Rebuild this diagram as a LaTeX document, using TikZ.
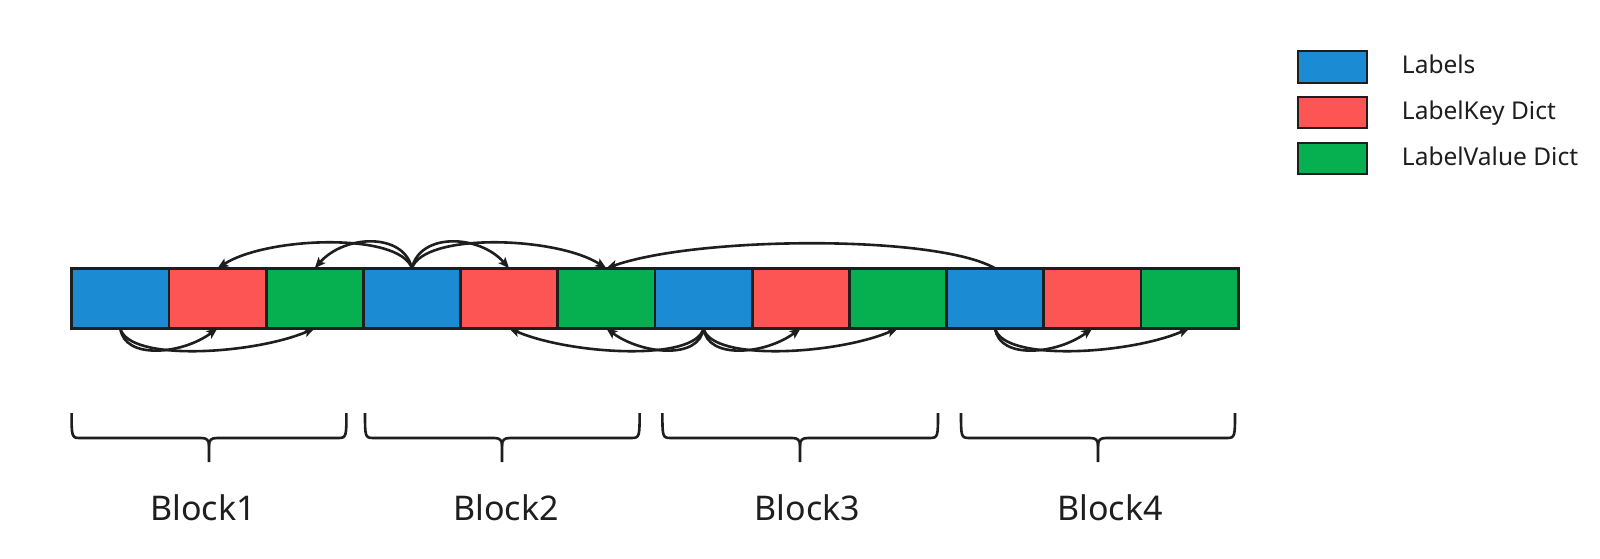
\documentclass[tikz,border=0pt]{standalone}
\usepackage{fontspec}
\setmainfont{Noto Sans}
\usetikzlibrary{arrows.meta}
\definecolor{cblue}{HTML}{1B8CD3}
\definecolor{cred}{HTML}{FD5454}
\definecolor{cgreen}{HTML}{06AF4F}
\definecolor{ink}{HTML}{1E1E1E}
\newcommand\blockbrace[3]{%
 \draw[brc] (#1,413) .. controls (#1,436) and (#1,438) .. (#1+8,438) -- (#2-8,438) .. controls (#2-2,438) and (#2,440) .. (#2,446) -- (#2,462);
 \draw[brc] (#2,446) .. controls (#2,440) and (#2+2,438) .. (#2+8,438) -- (#3-8,438) .. controls (#3,438) and (#3,436) .. (#3,413);}
\begin{document}
\begin{tikzpicture}[x=1pt,y=-1pt,
 cell/.style={draw=ink, line width=2.8pt, minimum width=97.2pt, minimum height=60pt, inner sep=0pt, outer sep=0pt},
 legbox/.style={draw=ink, line width=2.3pt, minimum width=69.6pt, minimum height=31.6pt, inner sep=0pt},
 legtxt/.style={anchor=base west, inner sep=0pt, font=\fontsize{24.5}{28}\selectfont, text=ink},
 blk/.style={anchor=base, inner sep=0pt, font=\fontsize{34}{38}\selectfont, text=ink},
 arc/.style={draw=ink, line width=2.6pt, -{Stealth[length=11pt,width=9pt,inset=2.5pt]}},
 brc/.style={draw=ink, line width=2.6pt}]
\useasboundingbox[fill=white] (0,0) rectangle (1600,559);
% cells
\node[cell, fill=cblue]  (c1)  at (120.3,298.3) {};
\node[cell, fill=cred]   (c2)  at (217.5,298.3) {};
\node[cell, fill=cgreen] (c3)  at (314.7,298.3) {};
\node[cell, fill=cblue]  (c4)  at (411.9,298.3) {};
\node[cell, fill=cred]   (c5)  at (509.1,298.3) {};
\node[cell, fill=cgreen] (c6)  at (606.3,298.3) {};
\node[cell, fill=cblue]  (c7)  at (703.5,298.3) {};
\node[cell, fill=cred]   (c8)  at (800.7,298.3) {};
\node[cell, fill=cgreen] (c9)  at (897.9,298.3) {};
\node[cell, fill=cblue]  (c10) at (995.1,298.3) {};
\node[cell, fill=cred]   (c11) at (1092.3,298.3) {};
\node[cell, fill=cgreen] (c12) at (1189.5,298.3) {};
% top arcs
\draw[arc] (c4.north) .. controls +(-12,-36) and +(50,-32) .. (c2.north);
\draw[arc] (c4.north) .. controls +(-8,-36) and +(30,-34) .. (c3.north);
\draw[arc] (c4.north) .. controls +(8,-36) and +(-30,-34) .. (c5.north);
\draw[arc] (c4.north) .. controls +(12,-36) and +(-50,-32) .. (c6.north);
\draw[arc] (c10.north) .. controls +(-60,-34) and +(90,-32) .. (c6.north);
% bottom arcs
\draw[arc] (c1.south) .. controls +(4,32) and +(-35,26) .. (c2.south);
\draw[arc] (c1.south) .. controls +(8,34) and +(-60,26) .. (c3.south);
\draw[arc] (c7.south) .. controls +(-4,32) and +(35,26) .. (c6.south);
\draw[arc] (c7.south) .. controls +(-8,34) and +(60,26) .. (c5.south);
\draw[arc] (c7.south) .. controls +(4,32) and +(-35,26) .. (c8.south);
\draw[arc] (c7.south) .. controls +(8,34) and +(-60,26) .. (c9.south);
\draw[arc] (c10.south) .. controls +(4,32) and +(-35,26) .. (c11.south);
\draw[arc] (c10.south) .. controls +(8,34) and +(-60,26) .. (c12.south);
% braces
\blockbrace{71.6}{209}{346.4}
\blockbrace{365}{502}{639.6}
\blockbrace{662.4}{800}{938}
\blockbrace{961}{1098}{1235}
% block labels
\node[blk] (b1) at (203,520) {Block1};
\node[blk] (b2) at (506,520) {Block2};
\node[blk] (b3) at (807.5,520) {Block3};
\node[blk] (b4) at (1110,520) {Block4};
% legend
\node[legbox, fill=cblue]  (l1) at (1332.5,67) {};
\node[legbox, fill=cred]   (l2) at (1332.5,112.5) {};
\node[legbox, fill=cgreen] (l3) at (1332.5,158.5) {};
\node[legtxt] (t1) at (1401.7,73.5) {Labels};
\node[legtxt] (t2) at (1401.7,119.5) {LabelKey Dict};
\node[legtxt] (t3) at (1401.7,165.5) {LabelValue Dict};
\end{tikzpicture}
\end{document}
